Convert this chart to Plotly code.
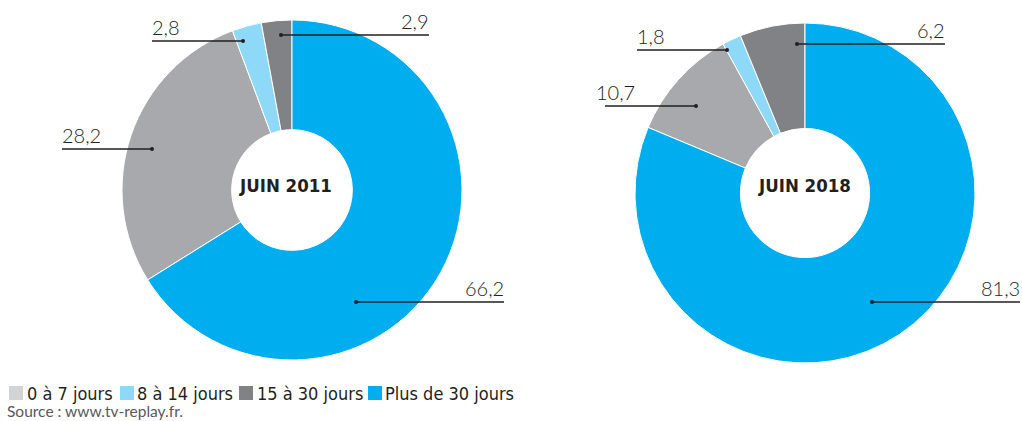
import plotly.graph_objects as go

# ---------------- data ----------------
categories = ["0 à 7 jours", "8 à 14 jours", "15 à 30 jours", "Plus de 30 jours"]
values_2011 = [28.2, 2.8, 2.9, 66.2]
values_2018 = [10.7, 1.8, 6.2, 81.3]
pie_titles = ["JUIN 2011", "JUIN 2018"]
source_text = "Source : www.tv-replay.fr."

# ---------------- styles ----------------
slice_colors = ["#a7a9ac", "#8ed8f8", "#808285", "#00aeef"]
legend_colors = ["#d1d3d4", "#8ed8f8", "#808285", "#00aeef"]
ink = "#231f20"
num_font = "Lato, Open Sans, sans-serif"
cond_font = "Liberation Sans Narrow, DejaVu Sans Condensed, Roboto, sans-serif"

# page body margin is removed in the page, so window pixels == figure pixels
FW, FH = 1022, 421


def px(x):
    return x / FW


def py(y):
    return 1 - y / FH


# pie geometry (window pixels): centre x, centre y, radius, hole fraction
pie_geom = [(292, 190, 170, 0.355), (805, 193, 170, 0.38)]
title_pos = [(285, 185), (804, 185)]

# leader lines per category (window pixels): dot x, dot y, line end x, text x
leaders_2011 = [(152, 149, 62, 62), (243, 41, 152, 152), (281, 35, 429, 429), (356, 302, 504, 504)]
leaders_2018 = [(696, 106, 605, 596), (727, 50, 637, 637), (797, 44, 945, 945), (872, 302, 1020, 1020)]

# legend layout (window pixels)
legend_sq_x = [9, 120, 239, 368]
legend_txt_x = [27, 137, 257, 385]
legend_y = 393
sq = 14


def fmt(v):
    return f"{v:.1f}".replace(".", ",")


fig = go.Figure()
shapes = []
annotations = []

for vals, (cx, cy, r, hole), title, tpos, leaders in zip(
    [values_2011, values_2018], pie_geom, pie_titles, title_pos, [leaders_2011, leaders_2018]
):
    total = sum(vals)
    rot = -360.0 * sum(vals[:3]) / total
    fig.add_trace(
        go.Pie(
            values=vals,
            labels=categories,
            sort=False,
            direction="clockwise",
            rotation=rot,
            hole=hole,
            textinfo="none",
            hoverinfo="label+value",
            showlegend=False,
            marker=dict(colors=slice_colors, line=dict(color="white", width=1)),
            domain=dict(x=[px(cx - r), px(cx + r)], y=[py(cy + r), py(cy - r)]),
        )
    )
    annotations.append(
        dict(
            x=px(tpos[0]), y=py(tpos[1]), xref="paper", yref="paper",
            text=f"<b>{title}</b>", showarrow=False,
            font=dict(family=cond_font, size=18.5, color=ink),
            xanchor="center", yanchor="middle",
        )
    )
    for v, (dx, dy, ex, tx) in zip(vals, leaders):
        shapes.append(
            dict(type="line", xref="paper", yref="paper",
                 x0=px(dx), y0=py(dy), x1=px(ex), y1=py(dy),
                 line=dict(color=ink, width=1.3))
        )
        shapes.append(
            dict(type="circle", xref="paper", yref="paper",
                 x0=px(dx - 2), y0=py(dy + 2), x1=px(dx + 2), y1=py(dy - 2),
                 fillcolor=ink, line=dict(width=0))
        )
        left = ex < dx
        annotations.append(
            dict(
                x=px(tx), y=py(dy - 14), xref="paper", yref="paper",
                text=fmt(v), showarrow=False,
                font=dict(family=num_font, size=20, color=ink, weight=300),
                xanchor="left" if left else "right", yanchor="middle",
                borderpad=0, borderwidth=0,
            )
        )

# legend
for cat, col, sx, tx in zip(categories, legend_colors, legend_sq_x, legend_txt_x):
    shapes.append(
        dict(type="rect", xref="paper", yref="paper",
             x0=px(sx), y0=py(legend_y + sq / 2), x1=px(sx + sq), y1=py(legend_y - sq / 2),
             fillcolor=col, line=dict(width=0))
    )
    annotations.append(
        dict(
            x=px(tx), y=py(legend_y), xref="paper", yref="paper",
            text=cat, showarrow=False,
            font=dict(family=cond_font, size=18, color=ink),
            xanchor="left", yanchor="middle", borderpad=0, borderwidth=0,
        )
    )

annotations.append(
    dict(
        x=px(7), y=py(411), xref="paper", yref="paper",
        text=source_text, showarrow=False,
        font=dict(family=num_font, size=15.5, color="#58595b"),
        xanchor="left", yanchor="middle", borderpad=0, borderwidth=0,
    )
)

fig.update_layout(
    width=FW, height=FH,
    margin=dict(l=0, r=0, t=0, b=0),
    paper_bgcolor="white", plot_bgcolor="white",
    shapes=shapes, annotations=annotations,
    showlegend=False,
)

fig.write_html(
    "out.html",
    config={"displayModeBar": False},
    post_script="document.body.style.margin='0px';document.body.style.overflow='hidden';",
)
